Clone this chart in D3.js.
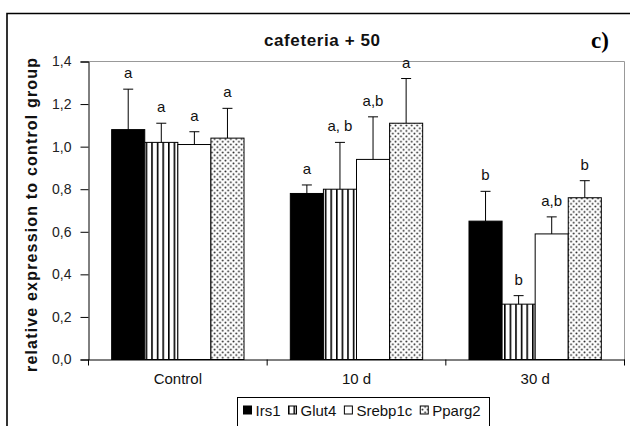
<!DOCTYPE html>
<html>
<head>
<meta charset="utf-8">
<script src="https://cdn.jsdelivr.net/npm/d3@7"></script>
<style>
  html, body { margin: 0; padding: 0; background: #fff; }
  svg { display: block; font-family: Arial, "Liberation Sans", sans-serif; }
</style>
</head>
<body>
<div id="chart"></div>
<script>
// chart values
const categories = ["Control", "10 d", "30 d"];
const genes = ["Irs1", "Glut4", "Srebp1c", "Pparg2"];

const irs1 = [1.08, 0.78, 0.65];
const glut4 = [1.02, 0.80, 0.26];
const srebp1c = [1.01, 0.94, 0.59];
const pparg2 = [1.04, 1.11, 0.76];

const irs1Err = [0.19, 0.04, 0.14];
const glut4Err = [0.09, 0.22, 0.04];
const srebp1cErr = [0.06, 0.20, 0.08];
const pparg2Err = [0.14, 0.21, 0.08];

const irs1Sig = ["a", "a", "b"];
const glut4Sig = ["a", "a, b", "b"];
const srebp1cSig = ["a", "a,b", "a,b"];
const pparg2Sig = ["a", "a", "b"];

const yTicks = [0, 0.2, 0.4, 0.6, 0.8, 1.0, 1.2, 1.4];

const series = [
    { gene: "Irs1", values: irs1, err: irs1Err, sig: irs1Sig },
    { gene: "Glut4", values: glut4, err: glut4Err, sig: glut4Sig },
    { gene: "Srebp1c", values: srebp1c, err: srebp1cErr, sig: srebp1cSig },
    { gene: "Pparg2", values: pparg2, err: pparg2Err, sig: pparg2Sig },
];

const width = 630;
const height = 426;
const plot = { left: 88.5, right: 624.5, top: 61.5, bottom: 359.5 };

const svg = d3.select("#chart").append("svg")
    .attr("width", width)
    .attr("height", height);

// fill patterns
const defs = svg.append("defs");
const stripes = defs.append("pattern")
    .attr("id", "stripes")
    .attr("patternUnits", "userSpaceOnUse")
    .attr("width", 5.6)
    .attr("height", 4);
stripes.append("rect").attr("width", 5.6).attr("height", 4).attr("fill", "#fff");
stripes.append("rect").attr("x", 0).attr("width", 1.6).attr("height", 4).attr("fill", "#000");

const dots = defs.append("pattern")
    .attr("id", "dots")
    .attr("patternUnits", "userSpaceOnUse")
    .attr("width", 5.4)
    .attr("height", 5.4);
dots.append("rect").attr("width", 5.4).attr("height", 5.4).attr("fill", "#fff");
dots.append("circle").attr("cx", 1.35).attr("cy", 1.35).attr("r", 0.95).attr("fill", "#222");
dots.append("circle").attr("cx", 4.05).attr("cy", 4.05).attr("r", 0.95).attr("fill", "#222");

const fills = { Irs1: "#000", Glut4: "url(#stripes)", Srebp1c: "#fff", Pparg2: "url(#dots)" };

// outer frame (top and left edges visible)
svg.append("path")
    .attr("d", `M7,${height + 2} V13.5 H${width + 2}`)
    .attr("fill", "none")
    .attr("stroke", "#000")
    .attr("stroke-width", 1.6);

const x = d3.scaleBand()
    .domain(categories)
    .range([plot.left, plot.right]);

const xInner = d3.scaleBand()
    .domain(genes)
    .range([0, x.bandwidth()])
    .paddingOuter(0.7);

const y = d3.scaleLinear()
    .domain([0, 1.4])
    .range([plot.bottom, plot.top]);

const commaFmt = d3.formatLocale({ decimal: ",", thousands: ".", grouping: [3], currency: ["", ""] }).format(".1f");

// grey top/right border of the plot area
svg.append("path")
    .attr("d", `M${plot.left},${plot.top} H${plot.right} V${plot.bottom}`)
    .attr("fill", "none")
    .attr("stroke", "#999")
    .attr("stroke-width", 1);

// bars
series.forEach(s => {
    const g = svg.append("g");
    s.values.forEach((v, i) => {
        const bx = x(categories[i]) + xInner(s.gene);
        const bw = xInner.bandwidth();
        g.append("rect")
            .attr("x", bx)
            .attr("y", y(v))
            .attr("width", bw)
            .attr("height", y(0) - y(v))
            .attr("fill", fills[s.gene])
            .attr("stroke", "#000")
            .attr("stroke-width", 1);

        const cx = bx + bw / 2;
        const top = y(v + s.err[i]);
        g.append("line")
            .attr("x1", cx).attr("x2", cx)
            .attr("y1", y(v)).attr("y2", top)
            .attr("stroke", "#000");
        g.append("line")
            .attr("x1", cx - 5).attr("x2", cx + 5)
            .attr("y1", top).attr("y2", top)
            .attr("stroke", "#000");

        g.append("text")
            .attr("x", cx)
            .attr("y", top - 11)
            .attr("text-anchor", "middle")
            .attr("font-size", "15px")
            .attr("fill", "#111")
            .text(s.sig[i]);
    });
});

// y axis
const yAxis = svg.append("g")
    .attr("transform", `translate(${plot.left},0)`)
    .call(d3.axisLeft(y).tickValues(yTicks).tickFormat(commaFmt).tickSize(8).tickPadding(9));
yAxis.select(".domain").attr("stroke", "#000");
yAxis.selectAll(".tick line").attr("stroke", "#000");
yAxis.selectAll("text").attr("font-size", "14px").attr("fill", "#222")
    .attr("font-family", "Arial, 'Liberation Sans', sans-serif");

// x axis: ticks at group boundaries
const xAxis = svg.append("g")
    .attr("transform", `translate(0,${plot.bottom})`)
    .call(d3.axisBottom(x).tickSize(0).tickPadding(14));
xAxis.select(".domain").attr("stroke", "#000");
xAxis.selectAll("text").attr("font-size", "15px").attr("fill", "#111")
    .attr("font-family", "Arial, 'Liberation Sans', sans-serif");

const boundaries = categories.map(c => x(c)).concat([x(categories[categories.length - 1]) + x.bandwidth()]);
svg.append("g").selectAll("line")
    .data(boundaries)
    .enter()
    .append("line")
    .attr("x1", d => d).attr("x2", d => d)
    .attr("y1", plot.bottom).attr("y2", plot.bottom + 6)
    .attr("stroke", "#000");

// titles
svg.append("text")
    .attr("x", 322)
    .attr("y", 46)
    .attr("text-anchor", "middle")
    .attr("font-size", "17px")
    .attr("font-weight", "bold")
    .attr("textLength", 116)
    .attr("fill", "#111")
    .text("cafeteria + 50");

svg.append("text")
    .attr("x", 600)
    .attr("y", 48)
    .attr("text-anchor", "middle")
    .attr("font-family", "'Liberation Serif', 'Times New Roman', serif")
    .attr("font-size", "23px")
    .attr("font-weight", "bold")
    .attr("fill", "#000")
    .text("c)");

svg.append("text")
    .attr("transform", `translate(37,${(58 + 372) / 2}) rotate(-90)`)
    .attr("text-anchor", "middle")
    .attr("font-size", "16px")
    .attr("font-weight", "bold")
    .attr("textLength", 314)
    .attr("fill", "#111")
    .text("relative expression  to control group");

// legend
const legend = svg.append("g").attr("transform", "translate(237.5,397.5)");
legend.append("rect")
    .attr("width", 252)
    .attr("height", 40)
    .attr("fill", "#fff")
    .attr("stroke", "#000");

let lx = 6;
genes.forEach(gName => {
    legend.append("rect")
        .attr("x", lx)
        .attr("y", 8.5)
        .attr("width", 8)
        .attr("height", 8)
        .attr("fill", fills[gName])
        .attr("stroke", "#000");
    const t = legend.append("text")
        .attr("x", lx + 12)
        .attr("y", 18)
        .attr("font-size", "15px")
        .attr("fill", "#111")
        .text(gName);
    lx += 12 + t.node().getComputedTextLength() + 8;
});
</script>
</body>
</html>
